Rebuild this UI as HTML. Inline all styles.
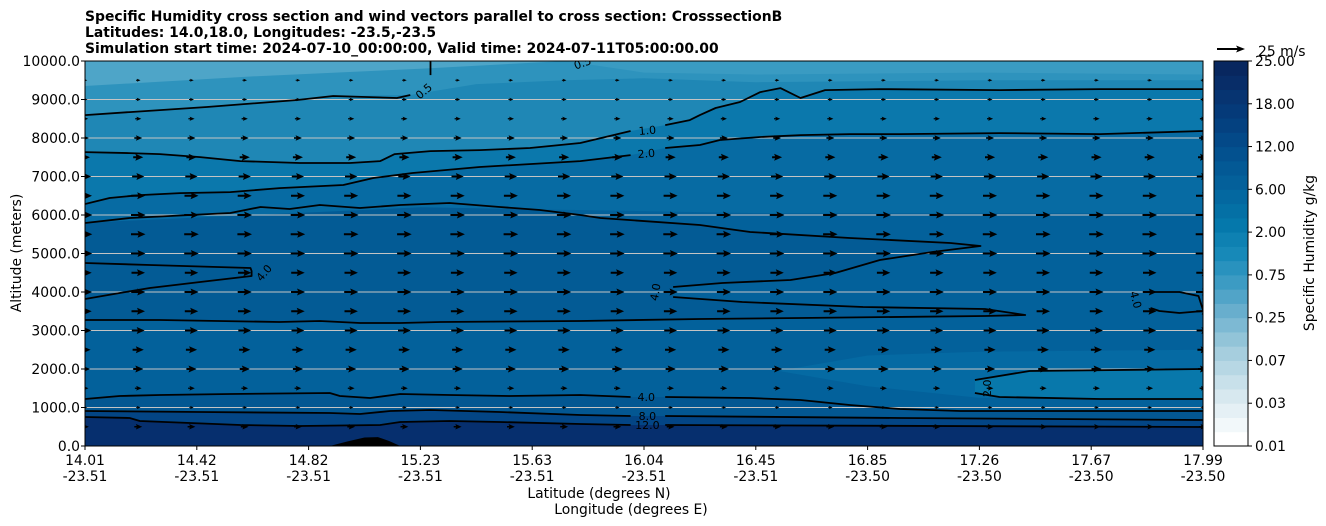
<!DOCTYPE html>
<html><head><meta charset="utf-8"><style>
body{margin:0;background:#fff;}
svg{display:block;font-family:"DejaVu Sans","Liberation Sans",sans-serif;}
</style></head><body>
<svg id="chart" width="1326" height="526" viewBox="0 0 1326 526">
<text x="85" y="21" font-size="13.9" font-weight="bold">Specific Humidity cross section and wind vectors parallel to cross section: CrosssectionB</text>
<text x="85" y="37" font-size="13.9" font-weight="bold">Latitudes: 14.0,18.0, Longitudes: -23.5,-23.5</text>
<text x="85" y="53" font-size="13.9" font-weight="bold">Simulation start time: 2024-07-10_00:00:00, Valid time: 2024-07-11T05:00:00.00</text>
<defs><clipPath id="pc"><rect x="85" y="61" width="1118" height="385"/></clipPath></defs>
<g id="plot" clip-path="url(#pc)"></g>
<g id="over"></g>
<text transform="translate(21,253) rotate(-90)" text-anchor="middle" font-size="13.9">Altitude (meters)</text>
<text x="599" y="498" text-anchor="middle" font-size="13.9">Latitude (degrees N)</text>
<text x="631" y="514" text-anchor="middle" font-size="13.9">Longitude (degrees E)</text>
<g>
<line x1="1217" y1="49" x2="1238" y2="49" stroke="#000" stroke-width="2"/>
<polygon points="1245,49 1236,45.5 1238,49 1236,52.5" fill="#000"/>
<text x="1258" y="56" font-size="13.9">25 m/s</text>
</g>
<text transform="translate(1314,253) rotate(-90)" text-anchor="middle" font-size="13.9">Specific Humidity g/kg</text>
</svg>
<script>
// ---- data ----
const xTickLat = ["14.01","14.42","14.82","15.23","15.63","16.04","16.45","16.85","17.26","17.67","17.99"];
const xTickLon = ["-23.51","-23.51","-23.51","-23.51","-23.51","-23.51","-23.51","-23.50","-23.50","-23.50","-23.50"];
const yTicks = [0,1000,2000,3000,4000,5000,6000,7000,8000,9000,10000];
const cbTicks = ["0.01","0.03","0.07","0.25","0.75","2.00","6.00","12.00","18.00","25.00"];
const windAlts = [500,1000,1500,2000,2500,3000,3500,4000,4500,5000,5500,6000,6500,7000,7500,8000,8500,9000,9500];
const windSpeeds = [7,4,6,9,10,11.5,12,12.5,12,13,13,13,12.5,11,9,7,5.5,4.5,4];
// contour lines: x in cross-section position (0..10 tick units), altitude in m
const c05a = [[0,8596],[0.40,8674],[1.09,8804],[1.90,8986],[2.22,9090],[2.79,9038],[2.91,9116]];
const c05b = [[3.09,10000],[3.09,9635]];
const c1 = [[0,7635],[0.40,7609],[0.67,7583],[1.03,7505],[1.39,7401],[1.92,7350],[2.37,7350],[2.64,7401],[2.77,7583],[3.09,7661],[3.53,7687],[3.98,7739],[4.43,7869],[4.88,8181],null,[5.19,8336],[5.41,8466],[5.50,8596],[5.64,8778],[5.86,8934],[6.04,9193],[6.22,9297],[6.40,9038],[6.62,9245],[7.11,9271],[8.18,9245],[9.08,9271],[10,9271]];
const c2 = [[0,6285],[0.22,6441],[0.49,6518],[0.85,6570],[1.30,6596],[1.74,6700],[2.31,6778],[2.58,6960],[2.93,7090],[3.53,7246],[4.43,7401],[4.88,7557],null,[5.19,7739],[5.50,7817],[5.68,7947],[6.04,8025],[6.40,8076],[6.84,8102],[7.29,8102],[8.18,8128],[9.08,8102],[10,8181]];
const c4u = [[0,5791],[0.40,5921],[1.30,6051],[1.57,6207],[1.83,6155],[2.10,6259],[2.46,6181],[2.82,6259],[3.26,6311],[3.71,6207],[4.07,6129],[4.43,5999],[4.61,5921],[5.50,5739],[5.95,5558],[6.84,5402],[7.74,5272],[8.01,5194],[7.58,5038],[7.11,4830],[6.71,4493],[6.31,4311],[5.70,4233],[5.26,4129],null,[5.26,3870],[5.88,3740],[6.96,3610],[8.05,3558],[8.41,3402],[8.05,3376],[6.40,3324],[5.50,3298],[4.43,3246],[3.18,3220],[2.82,3194],[2.46,3194],[2.10,3246],[1.74,3220],[0.67,3272],[0,3272]];
const c4left = [[0,4753],[0.58,4701],[1.48,4623],[1.49,4545],[1.49,4415],[1.03,4259],[0.58,4103],[0.31,3973],[0,3818]];
const c4low = [[0,1221],[0.31,1299],[0.67,1324],[1.30,1350],[2.19,1376],[2.28,1299],[2.55,1247],[2.82,1350],[3.26,1324],[3.80,1299],[4.43,1324],[4.88,1273],null,[5.19,1273],[5.95,1247],[6.40,1195],[6.84,1065],[7.29,961],[7.83,909],[10,909]];
const c8 = [[0,909],[1.03,883],[2.19,857],[2.46,831],[2.73,909],[3.09,935],[3.71,883],[4.43,805],[4.88,779],null,[5.19,779],[7.29,727],[10,675]];
const c12 = [[0,753],[0.40,727],[0.49,649],[1.39,545],[1.92,519],[2.64,545],[2.82,623],[3.26,649],[3.71,623],[4.43,571],[4.88,545],null,[5.19,545],[10,493]];
const c2lowU = [[7.96,1714],[8.45,1948],[10,2000]];
const c2lowL = [[7.96,1376],[8.18,1273],[9.08,1221],[10,1221]];
const c4right = [[9.53,3999],[9.79,3999],[9.96,3895],[10,3532],[10,3506],[9.79,3454],[9.61,3506],[9.53,3584]];
const terrain = [[2.19,0],[2.35,120],[2.5,220],[2.62,230],[2.72,130],[2.82,0]];
const bandA = [[0,5800],[3,6200],[6,6050],[10,6050]];
const bandTopLeft = [[0,9350],[1.5,9600],[3,9800],[4.3,10000]];
const bandTopRight = [[4.3,10000],[5,9700],[6,9650],[8,9700],[10,9650]];
const lightLow = [[6.2,1950],[7,2350],[8,2450],[10,2500],[10,1250],[8,1250],[7,1550]];
const clabels = [["0.5",3.03,9220,-40],["0.5",4.45,9950,-20],["1.0",5.03,8200,-5],["2.0",5.02,7600,-5],["4.0",1.6,4500,-50],["4.0",5.1,4000,-80],["4.0",5.02,1270,0],["8.0",5.03,780,0],["12.0",5.03,540,0],["2.0",8.07,1500,-90],["4.0",9.4,3800,75]];

// ---- scales ----
const X0=85,X1=1203,Y0=446,Y1=61;
const xs = t => X0 + t*(X1-X0)/10;
const ys = a => Y0 - a*(Y0-Y1)/10000;
const NS="http://www.w3.org/2000/svg";
const plot=document.getElementById('plot'), over=document.getElementById('over');
function mk(tag,attrs,parent){const e=document.createElementNS(NS,tag);for(const k in attrs)e.setAttribute(k,attrs[k]);parent.appendChild(e);return e;}
function pathD(pts){let d='',m=true;for(const p of pts){if(!p){m=true;continue;}d+=(m?'M':'L')+xs(p[0]).toFixed(1)+','+ys(p[1]).toFixed(1);m=false;}return d;}
function above(line,color,name){
  const pts=line.filter(p=>p);
  let d=pathD(pts)+'L'+xs(pts[pts.length-1][0])+','+(Y1-2)+'L'+xs(pts[0][0])+','+(Y1-2)+'Z';
  const e=mk('path',{d:d,fill:color},plot);
  
  
}
function below(line,color,name){
  const pts=line.filter(p=>p);
  let d=pathD(pts)+'L'+xs(pts[pts.length-1][0])+','+(Y0+2)+'L'+xs(pts[0][0])+','+(Y0+2)+'Z';
  const e=mk('path',{d:d,fill:color},plot);
  
  
}
const base=mk('rect',{x:X0,y:Y1,width:X1-X0,height:Y0-Y1,fill:'#03619b'},plot);


const wedgePts=c4u.filter(p=>p);
const wd=mk('path',{d:pathD(wedgePts)+'Z',fill:'#035b95'},plot);


above(bandA,'#076ba3','humidity-fill-band-6000');
above(c2,'#0b78ac','humidity-fill-above-2');
above(c1.concat([[10,9100]]),'#1f87b5','humidity-fill-above-1');
above([[0,8596],[0.4,8674],[1.09,8804],[1.9,8986],[2.22,9090],[2.91,9116],[3.5,9400],[4.3,9500],[5,9550],[6,9450],[8,9500],[10,9500]],'#2e93bd','humidity-fill-above-05');
above(bandTopLeft,'#4ea5c8','humidity-fill-top-left');
above(bandTopRight,'#3a9bc2','humidity-fill-top-right');
const ll=mk('path',{d:pathD(lightLow)+'Z',fill:'#056aa3'},plot);


const l2=mk('path',{d:pathD(c2lowU.concat(c2lowL.slice().reverse()))+'Z',fill:'#0878ab'},plot);


below(c4low,'#035792','humidity-fill-below-4');
below(c8,'#034585','humidity-fill-below-8');
below(c12,'#062f6e','humidity-fill-below-12');
const tr=mk('path',{d:pathD(terrain)+'Z',fill:'#000'},plot);


for(const a of yTicks){
  const g=mk('line',{x1:X0,x2:X1,y1:ys(a),y2:ys(a),stroke:'#c4c4c4','stroke-width':1},plot);
  
  
}
const contours=[[c05a,'contour-0.5'],[c05b,'contour-0.5-top'],[c1,'contour-1'],[c2,'contour-2'],[c4u,'contour-4-upper'],[c4left,'contour-4-left'],[c4low,'contour-4-lower'],[c8,'contour-8'],[c12,'contour-12'],[c2lowU,'contour-2-low-upper'],[c2lowL,'contour-2-low-lower'],[c4right,'contour-4-right']];
for(const [c,n] of contours){
  const e=mk('path',{d:pathD(c),fill:'none',stroke:'#000','stroke-width':1.8,'stroke-linejoin':'round'},plot);
  
  
}
for(const [txt,t,a,r] of clabels){
  const x=xs(t),y=ys(a);
  const e=mk('text',{x:x,y:y+4,'text-anchor':'middle','font-size':11,transform:`rotate(${r},${x},${y})`},plot);
  e.textContent=txt;
  
  
}
const keyLen=28;
for(let k=0;k<=21;k++){
  const cx=xs(k*10/21);
  windAlts.forEach((alt,i)=>{
    const L=windSpeeds[i]/25*keyLen;
    const s=Math.min(1,L/10);
    const hl=8*s, hw=3.5*s, sw=1*s, ha=7*s;
    const x0=cx-L/2, x1=cx+L/2, y=ys(alt);
    const pts=[[x0,y-sw],[x1-ha,y-sw],[x1-hl,y-hw],[x1,y],[x1-hl,y+hw],[x1-ha,y+sw],[x0,y+sw]];
    const e=mk('polygon',{points:pts.map(p=>p[0].toFixed(1)+','+p[1].toFixed(1)).join(' '),fill:'#000'},plot);
    
    
  });
}
const fr=mk('rect',{x:X0,y:Y1,width:X1-X0,height:Y0-Y1,fill:'none',stroke:'#000','stroke-width':1},over);


yTicks.forEach(a=>{
  const y=ys(a);
  const tk=mk('line',{x1:X0-4,x2:X0,y1:y,y2:y,stroke:'#000'},over);
  
  
  const t=mk('text',{x:X0-5,y:y+5,'text-anchor':'end','font-size':13.9},over);
  t.textContent=a.toFixed(1);
  
  
});
xTickLat.forEach((lab,i)=>{
  const x=xs(i);
  const tk=mk('line',{x1:x,x2:x,y1:Y0,y2:Y0+4,stroke:'#000'},over);
  
  
  const t=mk('text',{x:x,y:465,'text-anchor':'middle','font-size':13.9},over);
  t.textContent=lab;
  
  
  const t2=mk('text',{x:x,y:481,'text-anchor':'middle','font-size':13.9},over);
  t2.textContent=xTickLon[i];
  
  
});
const cbStops=['#ffffff','#e3eff4','#c3dde8','#9dcadb','#6fb1cf','#3f9cc4','#1789b8','#0477aa','#04659e','#035592','#034383','#073572','#08275f'];
const nb=27, CB0=1214, CBW=34;
function mix(a,b,f){const pa=[1,3,5].map(i=>parseInt(a.substr(i,2),16)),pb=[1,3,5].map(i=>parseInt(b.substr(i,2),16));return 'rgb('+pa.map((v,i)=>Math.round(v+(pb[i]-v)*f)).join(',')+')';}
for(let i=0;i<nb;i++){
  const f=i/(nb-1)*(cbStops.length-1), j=Math.min(Math.floor(f),cbStops.length-2);
  const h=(Y0-Y1)/nb;
  const r=mk('rect',{x:CB0,y:Y0-(i+1)*h,width:CBW,height:h+0.5,fill:mix(cbStops[j],cbStops[j+1],f-j)},over);
  
  
}
const cbf=mk('rect',{x:CB0,y:Y1,width:CBW,height:Y0-Y1,fill:'none',stroke:'#000'},over);


cbTicks.forEach((lab,i)=>{
  const y=Y0-i*(Y0-Y1)/(cbTicks.length-1);
  const tk=mk('line',{x1:CB0+CBW,x2:CB0+CBW+4,y1:y,y2:y,stroke:'#000'},over);
  
  
  const t=mk('text',{x:CB0+CBW+7,y:y+5,'font-size':13.9},over);
  t.textContent=lab;
  
  
});
</script>
</body></html>
